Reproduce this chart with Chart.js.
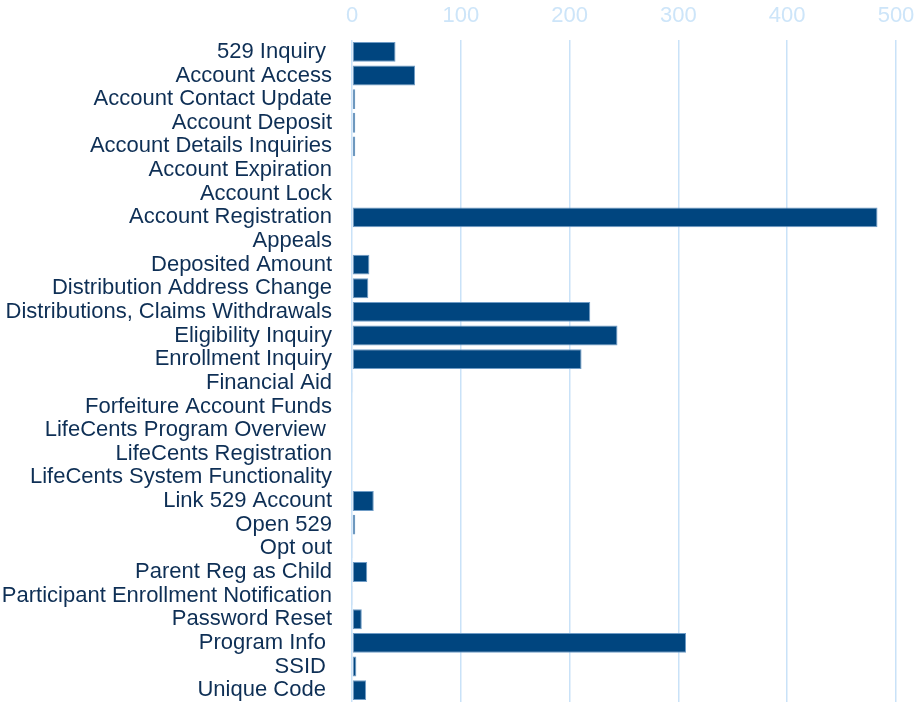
<!DOCTYPE html>
<html>
<head>
<meta charset="utf-8">
<script src="https://cdn.jsdelivr.net/npm/chart.js@4"></script>
<style>
html,body{margin:0;padding:0;background:#fff;overflow:hidden;}
canvas{display:block;}
</style>
</head>
<body>
<canvas id="c" width="915" height="703"></canvas>
<script>
const categories = [
  "529 Inquiry ", "Account Access", "Account Contact Update", "Account Deposit",
  "Account Details Inquiries", "Account Expiration", "Account Lock", "Account Registration",
  "Appeals", "Deposited Amount", "Distribution Address Change", "Distributions, Claims Withdrawals",
  "Eligibility Inquiry", "Enrollment Inquiry", "Financial Aid", "Forfeiture Account Funds",
  "LifeCents Program Overview ", "LifeCents Registration", "LifeCents System Functionality",
  "Link 529 Account", "Open 529", "Opt out", "Parent Reg as Child",
  "Participant Enrollment Notification", "Password Reset", "Program Info ", "SSID ", "Unique Code "
];
const counts = [
  40, 58, 3, 3,
  3, 0, 0, 483,
  0, 16, 15, 219,
  244, 211, 1, 0,
  0, 0, 0,
  20, 3, 1, 14,
  1, 9, 307, 4, 13
];
const xTicks = [0, 100, 200, 300, 400, 500];

new Chart(document.getElementById('c'), {
  type: 'bar',
  data: {
    labels: categories,
    datasets: [{
      data: counts,
      backgroundColor: '#00457f',
      borderColor: '#6f9cc6',
      borderWidth: 1,
      borderSkipped: false,
      barPercentage: 1.0,
      categoryPercentage: 0.84
    }]
  },
  options: {
    indexAxis: 'y',
    responsive: false,
    animation: false,
    devicePixelRatio: 1,
    layout: { padding: { left: 0, right: 19, top: 0, bottom: 1 } },
    plugins: { legend: { display: false }, tooltip: { enabled: false } },
    scales: {
      x: {
        position: 'top',
        min: xTicks[0],
        max: xTicks[xTicks.length - 1],
        afterBuildTicks: (s) => { s.ticks = xTicks.map(v => ({ value: v })); },
        afterFit: (s) => { s.height = 40; s.paddingLeft = 0; s.paddingRight = 0; },
        grid: { color: '#c9e2f8', lineWidth: 1.5, drawTicks: false },
        border: { display: false },
        ticks: {
          color: '#cde5f9',
          font: { family: 'Liberation Sans, Arial, sans-serif', size: 22 },
          padding: 11
        }
      },
      y: {
        afterFit: (s) => { s.width = 352; s.paddingTop = 0; s.paddingBottom = 0; },
        grid: { display: false, drawTicks: false },
        border: { display: false },
        ticks: {
          color: '#0e2f55',
          font: { family: 'Liberation Sans, Arial, sans-serif', size: 22 },
          padding: 20,
          autoSkip: false
        }
      }
    }
  }
});
</script>
</body>
</html>
